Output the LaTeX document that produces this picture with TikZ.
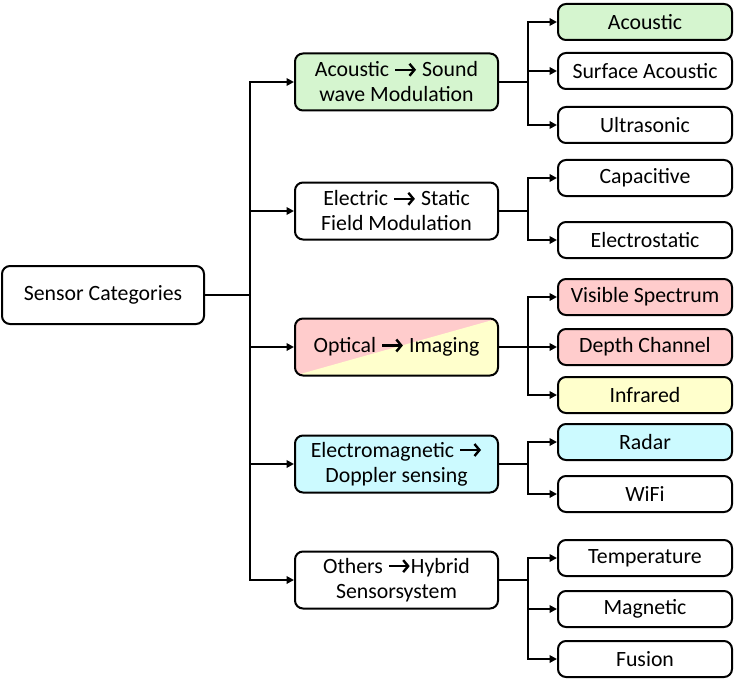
\documentclass[tikz,border=0pt]{standalone}
\usepackage{fontspec}
\setmainfont{Carlito}
\usetikzlibrary{arrows.meta,calc}
\definecolor{grn}{HTML}{D5F5CF}
\definecolor{pnk}{HTML}{FFCCCC}
\definecolor{ylw}{HTML}{FFFFCC}
\definecolor{cyn}{HTML}{CCFAFF}
\newcommand{\ra}{\tikz[baseline,x=1cm,y=1cm]\draw[line width=2.4pt,line cap=butt,
  -{Straight Barb[length=5pt,width=12pt,line width=2.4pt]}](0,0.33em)--(0.95em,0.33em);}

\begin{document}
\begin{tikzpicture}[x=1pt,y=-1pt,
    box/.style={draw,line width=2pt,rounded corners=8pt,align=center,inner sep=0pt,
      font=\fontsize{21.8}{25}\selectfont},
    mid/.style={box,minimum width=203pt,minimum height=57pt},
    leaf/.style={box,minimum width=174pt,minimum height=36pt},
    ln/.style={line width=2pt},
    arr/.style={ln,-{Triangle[length=7.5pt,width=7.5pt]}}]
  \useasboundingbox (0,0) rectangle (738,687);
  % root and trunk
  \node[box,minimum width=202pt,minimum height=58pt](root)at(103,295){Sensor Categories};
  \coordinate(trunk)at(250,295);
  % middle column
  \foreach \n/\y/\c/\t in{acou/82/grn/{Acoustic \ra{} Sound\\wave Modulation},
      elec/211/white/{Electric \ra{} Static\\Field Modulation},
      emag/464/cyn/{Electromagnetic \ra\\Doppler sensing},
      oth/580/white/{Others \ra Hybrid\\Sensorsystem}}{
    \node[mid,fill=\c](\n)at(396.5,\y){\t};
  }
  \node[mid,fill=pnk,path picture={
      \fill[ylw](path picture bounding box.south west)--(path picture bounding box.north east)
        --(path picture bounding box.south east)--cycle;}](opt)at(396.5,347){Optical \ra{} Imaging};
  % leaves
  \foreach \n/\y/\c/\t in{l1/22/grn/Acoustic,l2/71/white/Surface Acoustic,l3/125/white/Ultrasonic,
      l4/178/white/Capacitive,l5/240/white/Electrostatic,
      l6/297/pnk/Visible Spectrum,l7/347/pnk/Depth Channel,l8/395/ylw/Infrared,
      l9/442/cyn/Radar,l10/494/white/WiFi,
      l11/558/white/Temperature,l12/609/white/Magnetic,l13/659/white/Fusion}{
    \node[leaf,fill=\c](\n)at(645,\y){\t};
  }
  % connectors
  \draw[ln](root)--(trunk);
  \foreach \m in{acou,elec,opt,emag,oth}
    \draw[arr](trunk)|-(\m);
  \foreach \m/\ls in{acou/{l1,l2,l3},elec/{l4,l5},opt/{l6,l7,l8},emag/{l9,l10},oth/{l11,l12,l13}}{
    \coordinate(br\m)at($(\m.east)+(29,0)$);
    \draw[ln](\m)--(br\m);
    \foreach \k in \ls
      \draw[arr](br\m)|-(\k);
  }
\end{tikzpicture}
\end{document}
